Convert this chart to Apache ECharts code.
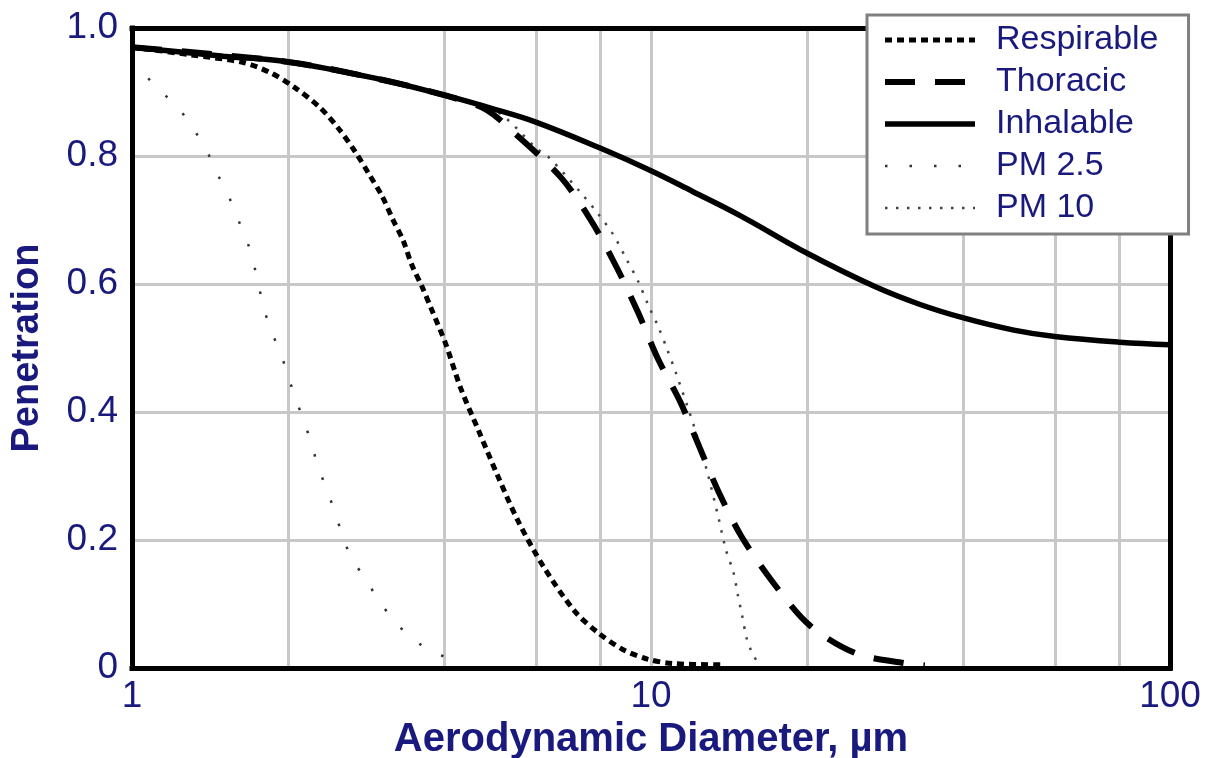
<!DOCTYPE html>
<html>
<head>
<meta charset="utf-8">
<script src="https://cdn.jsdelivr.net/npm/echarts@6/dist/echarts.min.js"></script>
<style>
  html, body { margin: 0; padding: 0; background: #fff; }
  #chart { width: 1208px; height: 758px; }
</style>
</head>
<body>
<div id="chart"></div>
<script>
// ---- Data: [aerodynamic diameter (µm), penetration] ----
const seriesNames = ['Respirable', 'Thoracic', 'Inhalable', 'PM 2.5', 'PM 10'];

const respirable = [[1,0.970],[1.3,0.958],[1.64,0.946],[1.85,0.930],[2.05,0.908],[2.3,0.876],[2.5,0.843],
  [2.69,0.807],[2.87,0.770],[3.03,0.738],[3.18,0.701],[3.33,0.668],[3.46,0.630],[3.62,0.596],[3.77,0.562],
  [4.02,0.507],[4.3,0.437],[4.67,0.368],[5.08,0.298],[5.55,0.229],[6.2,0.159],[7.14,0.088],[7.94,0.054],
  [8.82,0.029],[9.84,0.014],[11.0,0.007],[13.6,0.005]];

const thoracic = [[1,0.970],[2,0.947],[3,0.920],[4,0.895],[4.8,0.873],[5.47,0.835],[6.73,0.765],[7.72,0.695],
  [8.6,0.625],[9.45,0.555],[10.3,0.484],[11.4,0.415],[12.4,0.345],[13.5,0.275],[14.95,0.205],[17.1,0.136],
  [20.2,0.067],[24.8,0.023],[31.1,0.007],[33.7,0.004]];

const inhalable = [[1,0.970],[1.5,0.956],[2,0.947],[3,0.920],[4,0.895],[5,0.873],[6,0.853],[8,0.812],
  [10,0.777],[12,0.745],[15,0.705],[20,0.648],[27,0.596],[33,0.568],[40,0.547],[50,0.528],[60,0.518],
  [80,0.509],[100,0.505]];

const pm25 = [[1.0,0.950],[1.11,0.909],[1.225,0.876],[1.317,0.841],[1.397,0.806],[1.463,0.771],[1.538,0.736],
  [1.603,0.700],[1.668,0.666],[1.718,0.630],[1.756,0.596],[1.798,0.560],[1.858,0.525],[1.934,0.492],
  [2.0,0.455],[2.067,0.421],[2.145,0.385],[2.219,0.350],[2.285,0.313],[2.372,0.280],[2.45,0.247],
  [2.536,0.211],[2.639,0.174],[2.812,0.140],[2.983,0.107],[3.227,0.070],[3.562,0.039],[4.03,0.015],[4.1,0.0]];

const pm10 = [[1,0.970],[2,0.947],[3,0.920],[4,0.895],[5,0.872],[6.02,0.812],[6.39,0.796],[7.3,0.744],
  [7.92,0.709],[8.46,0.677],[8.98,0.638],[9.45,0.604],[9.88,0.567],[10.33,0.533],[10.72,0.500],
  [11.17,0.461],[12.11,0.377],[12.81,0.309],[13.48,0.236],[13.95,0.184],[14.41,0.150],[14.7,0.114],
  [14.99,0.081],[15.29,0.046],[15.58,0.028],[15.98,0.010],[16.05,0.0]];

// Gridline positions and tick labels
const xGridValues = [2, 4, 6, 8, 10, 20, 40, 60, 80];
const yGridValues = [0.2, 0.4, 0.6, 0.8];
const yTickLabels = {0: '0', 0.2: '0.2', 0.4: '0.4', 0.6: '0.6', 0.8: '0.8', 1: '1.0'};

// ---- Styling ----
const FONT = "'Liberation Sans', Arial, Helvetica, sans-serif";
const NAVY = '#1a1a7e';
const GRID_GREY = '#c8c8c8';

const frameLine = { show: true, onZero: false, lineStyle: { color: '#000', width: 5, cap: 'square' } };

const chart = echarts.init(document.getElementById('chart'), null, { renderer: 'canvas' });

const gridMarkData = []
  .concat(xGridValues.map(v => ({ xAxis: v })))
  .concat(yGridValues.map(v => ({ yAxis: v })));

const option = {
  animation: false,
  backgroundColor: '#fff',
  grid: { left: 132, right: 38, top: 28, bottom: 90, containLabel: false, outerBoundsMode: 'none' },
  xAxis: [
    {
      type: 'log', logBase: 10, min: 1, max: 100, position: 'bottom', z: 3,
      axisLine: frameLine, axisTick: { show: false }, splitLine: { show: false },
      axisLabel: { fontSize: 37, color: NAVY, margin: 10, fontFamily: FONT, showMaxLabel: true, showMinLabel: true },
      name: 'Aerodynamic Diameter, µm', nameLocation: 'middle', nameGap: 49,
      nameTextStyle: { fontSize: 40, fontWeight: 'bold', color: NAVY, fontFamily: FONT }
    },
    {
      type: 'log', logBase: 10, min: 1, max: 100, position: 'top', z: 3,
      axisLine: frameLine, axisTick: { show: false }, splitLine: { show: false },
      axisLabel: { show: false }
    }
  ],
  yAxis: [
    {
      type: 'value', min: 0, max: 1, interval: 0.2, position: 'left', z: 3,
      axisLine: frameLine, axisTick: { show: false }, splitLine: { show: false },
      axisLabel: {
        fontSize: 37, color: NAVY, margin: 14, fontFamily: FONT,
        formatter: v => yTickLabels[Math.round(v * 10) / 10] ?? String(v)
      },
      name: 'Penetration', nameLocation: 'middle', nameGap: 85, nameRotate: 90,
      nameTextStyle: { fontSize: 38, fontWeight: 'bold', color: NAVY, fontFamily: FONT }
    },
    {
      type: 'value', min: 0, max: 1, interval: 0.2, position: 'right', z: 3,
      axisLine: frameLine, axisTick: { show: false }, splitLine: { show: false },
      axisLabel: { show: false }
    }
  ],
  legend: {
    data: seriesNames,
    orient: 'vertical',
    left: 867, top: 15,
    z: 6,
    selectedMode: false,
    backgroundColor: '#fff',
    borderColor: '#808080', borderWidth: 3, borderRadius: 0,
    padding: [8, 30, 9, 15],
    itemWidth: 90, itemHeight: 14, itemGap: 8,
    itemStyle: { opacity: 0 },
    lineStyle: { width: 'inherit', type: 'inherit', color: 'inherit' },
    textStyle: { fontSize: 34, lineHeight: 34, color: NAVY, fontFamily: FONT, padding: [0, 0, 0, 16] }
  },
  series: [
    {
      name: 'gridlines', type: 'line', data: [], silent: true,
      markLine: {
        silent: true, symbol: 'none', z: 1, animation: false,
        label: { show: false },
        lineStyle: { color: GRID_GREY, width: 3, type: 'solid' },
        data: gridMarkData
      }
    },
    {
      name: 'PM 10', type: 'line', data: pm10, symbol: 'none', smooth: 0.3, z: 2,
      itemStyle: { color: '#444' },
      lineStyle: { color: '#444', width: 2.5, type: [2.5, 8.5] }
    },
    {
      name: 'PM 2.5', type: 'line', data: pm25, symbol: 'none', smooth: 0.3, z: 2,
      itemStyle: { color: '#333' },
      lineStyle: { color: '#333', width: 2.5, type: [2.5, 22] }
    },
    {
      name: 'Thoracic', type: 'line', data: thoracic, symbol: 'none', smooth: 0.3, z: 2,
      itemStyle: { color: '#000' },
      lineStyle: { color: '#000', width: 6, type: [30, 20] }
    },
    {
      name: 'Respirable', type: 'line', data: respirable, symbol: 'none', smooth: 0.3, z: 2,
      itemStyle: { color: '#000' },
      lineStyle: { color: '#000', width: 5, type: [7, 5] }
    },
    {
      name: 'Inhalable', type: 'line', data: inhalable, symbol: 'none', smooth: 0.4, z: 2,
      itemStyle: { color: '#000' },
      lineStyle: { color: '#000', width: 5.5, type: 'solid' }
    }
  ]
};

chart.setOption(option);
</script>
</body>
</html>
